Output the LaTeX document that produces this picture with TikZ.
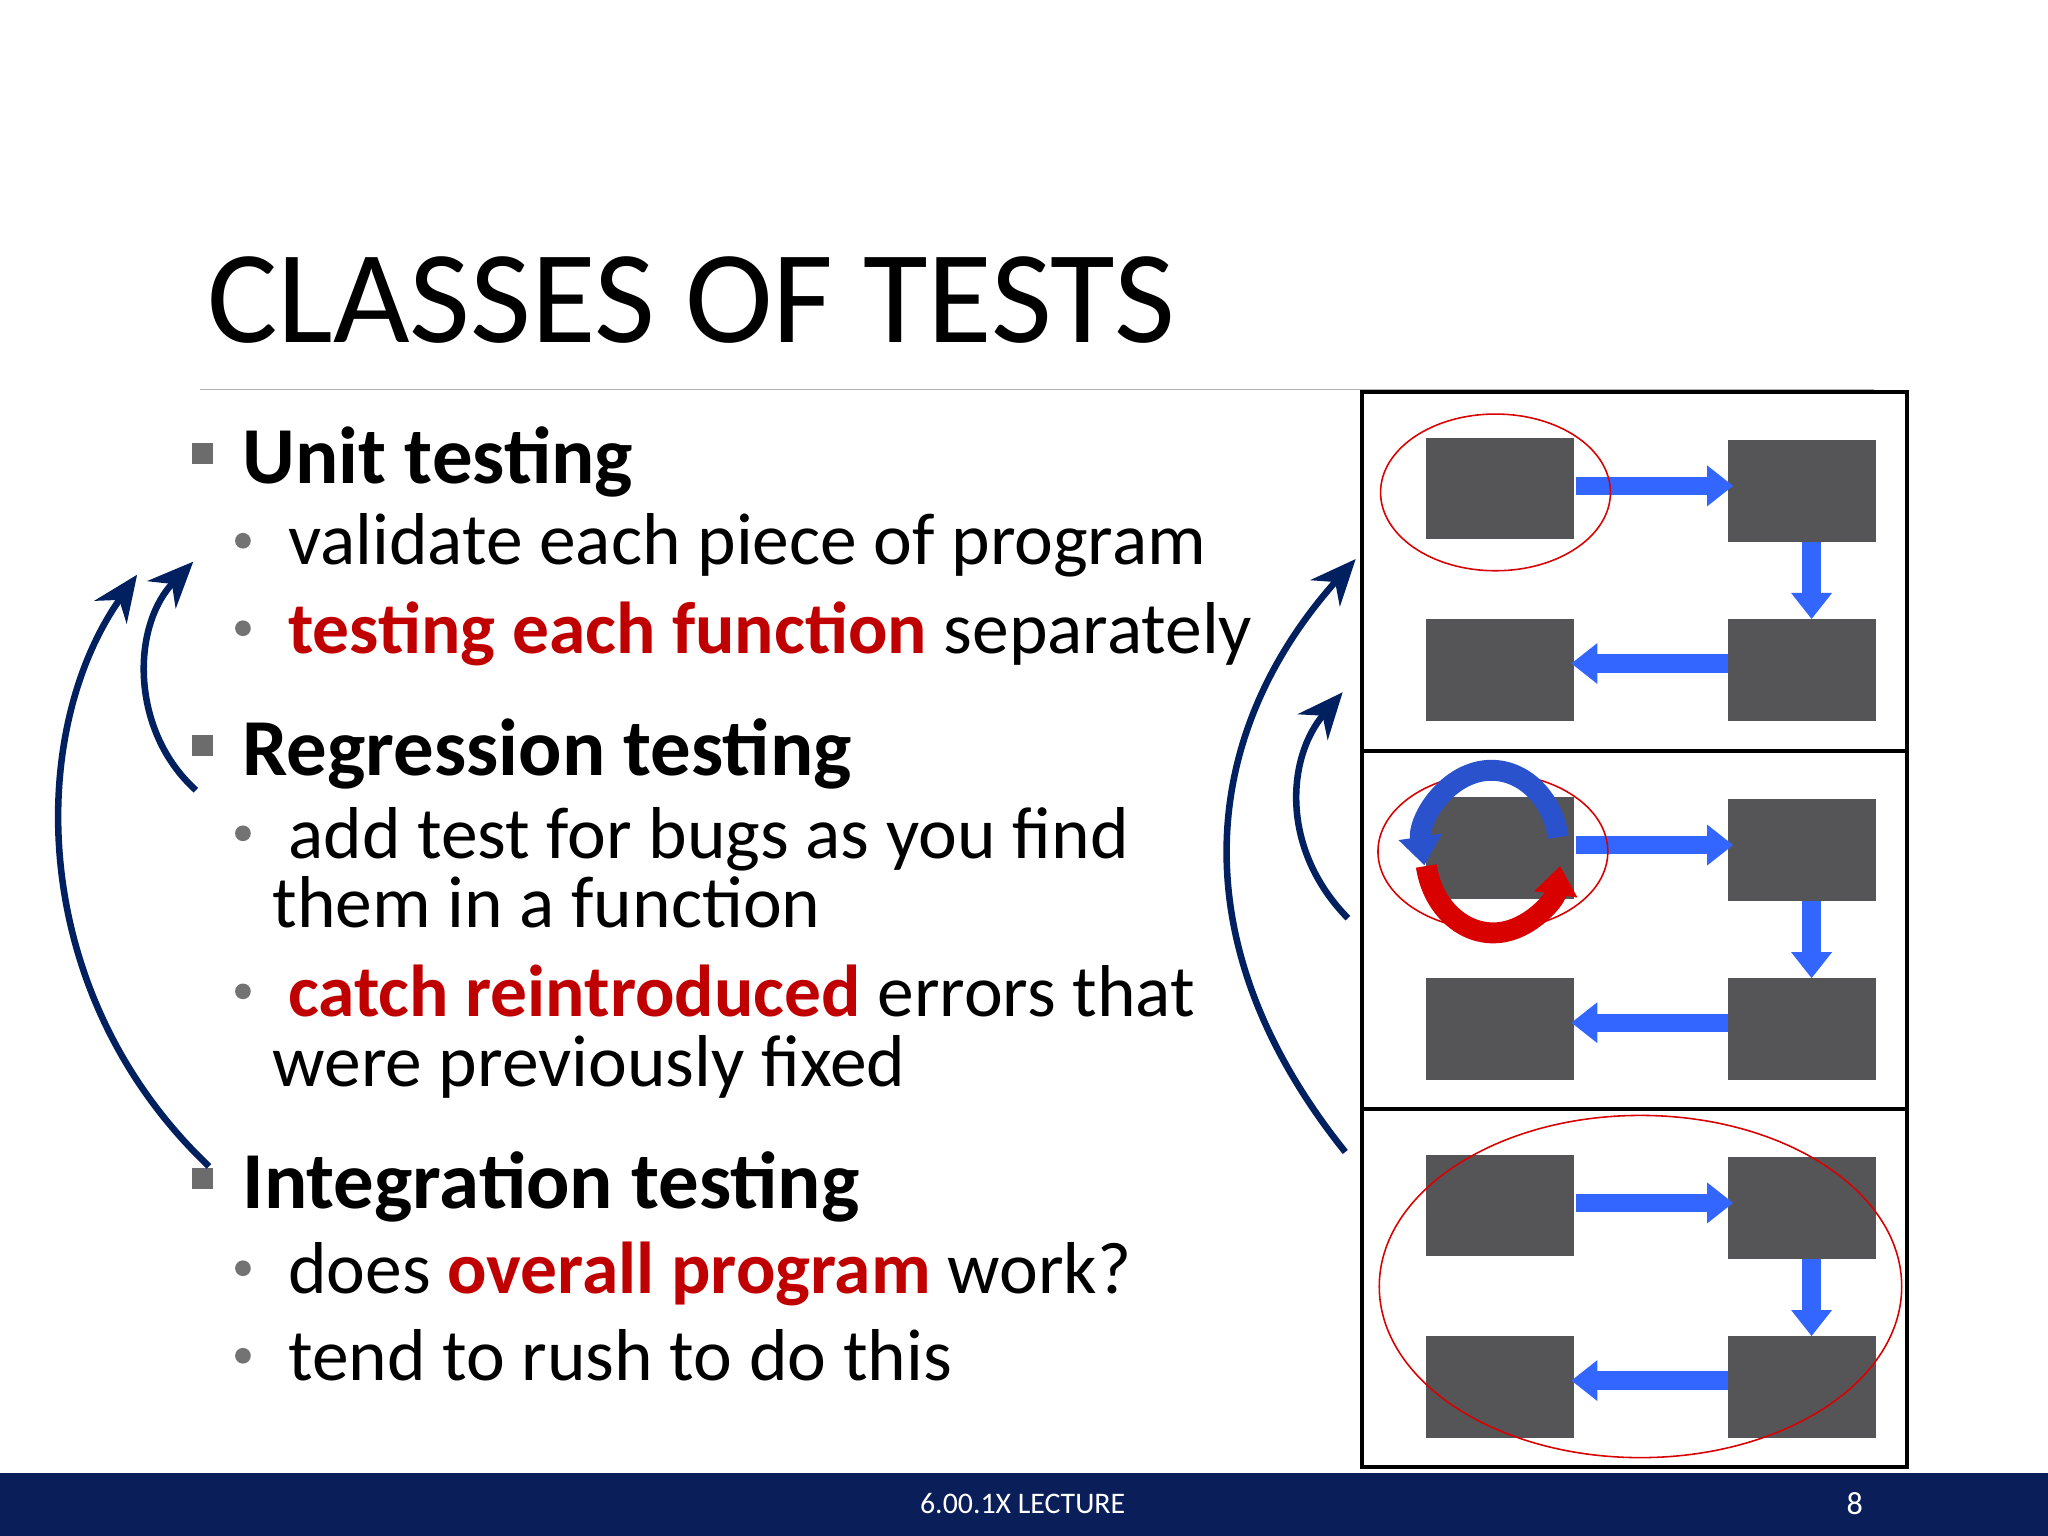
\documentclass[tikz,border=0pt]{standalone}
\usepackage{fontspec}
\setmainfont{Carlito}
\usetikzlibrary{arrows.meta}
\definecolor{navy}{RGB}{0,32,96}
\definecolor{foot}{RGB}{10,30,90}
\definecolor{redt}{RGB}{192,0,0}
\definecolor{boxg}{RGB}{85,85,88}
\definecolor{blu}{RGB}{51,102,255}
\tikzset{
 txt/.style={anchor=base west,inner sep=0,font=\fontsize{16}{19}\selectfont},
 head/.style={anchor=base west,inner sep=0,font=\fontsize{17.6}{21}\selectfont\bfseries},
 sq/.style={fill=gray!85!black,minimum size=0.16cm,inner sep=0},
 dot/.style={circle,fill=gray!90!black,minimum size=0.12cm,inner sep=0},
 gbox/.style={fill=boxg,draw=none},
 barrow/.style={blu,line width=0.14cm,-{Triangle[length=0.2cm,width=0.3cm]}},
 curv/.style={navy,line width=0.05cm,-{Stealth[length=0.35cm,width=0.3cm]}},
 redell/.style={draw=red!85!black,line width=0.012cm},
}
\begin{document}
\begin{tikzpicture}[x=0.01cm,y=-0.01cm]
\useasboundingbox (0,0) rectangle (1568,1176);
\fill[white] (0,0) rectangle (1568,1176);
\fill[foot] (0,1128) rectangle (1568,1176);
\node[white,font=\fontsize{6.5}{8}\selectfont] (ft) at (783,1151) {6.00.1X LECTURE};
\node[white,font=\fontsize{7}{8}\selectfont] (pg) at (1420,1151) {8};
\node[anchor=base west,inner sep=0,font=\fontsize{28.8}{32}\selectfont] (title) at (158,262) {CLASSES OF TESTS};
\draw[gray!60,line width=0.01cm] (153,298) -- (1435,298);
% bullets
\node[sq] (s1) at (155,347) {}; \node[head] (h1) at (185,370) {Unit testing};
\node[dot] (d1) at (186,414) {}; \node[txt] (t1) at (220,432) {validate each piece of program};
\node[dot] (d2) at (186,481) {}; \node[txt] (t2) at (220,500) {\textcolor{redt}{\bfseries testing each function} separately};
\node[sq] (s2) at (155,571) {}; \node[head] (h2) at (185,594) {Regression testing};
\node[dot] (d3) at (186,638) {}; \node[txt] (t3) at (220,657) {add test for bugs as you find};
\node[txt] (t3b) at (208,710) {them in a function};
\node[dot] (d4) at (186,759) {}; \node[txt] (t4) at (220,778) {\textcolor{redt}{\bfseries catch reintroduced} errors that};
\node[txt] (t4b) at (208,832) {were previously fixed};
\node[sq] (s3) at (155,902) {}; \node[head] (h3) at (185,925) {Integration testing};
\node[dot] (d5) at (186,971) {}; \node[txt] (t5) at (220,990) {does \textcolor{redt}{\bfseries overall program} work?};
\node[dot] (d6) at (186,1038) {}; \node[txt] (t6) at (220,1057) {tend to rush to do this};
% panels
\foreach \o/\n in {0/a,275/b,549/c}{
 \fill[gbox] (1092,335+\o) rectangle (1205,413+\o);
 \fill[gbox] (1323,337+\o) rectangle (1436,415+\o);
 \fill[gbox] (1092,474+\o) rectangle (1205,552+\o);
 \fill[gbox] (1323,474+\o) rectangle (1436,552+\o);
 \draw[barrow] (1207,372+\o) -- (1327,372+\o);
 \draw[barrow] (1387,415+\o) -- (1387,474+\o);
 \draw[barrow] (1323,508+\o) -- (1203,508+\o);
}
\draw[line width=0.03cm] (1043,300) rectangle (1460,1123);
\draw[line width=0.03cm] (1043,575) -- (1460,575);
\draw[line width=0.03cm] (1043,849) -- (1460,849);
\draw[redell] (1145,377) ellipse [x radius=88,y radius=60];
\draw[redell] (1143,652) ellipse [x radius=88,y radius=60];
\draw[redell] (1256,985) ellipse [x radius=200,y radius=131];
% circular arrows
\draw[blu!80!black,line width=0.16cm,-{Triangle[length=0.22cm,width=0.32cm]}] (1193,641) arc[start angle=-10,end angle=-190,x radius=52,y radius=62];
\draw[red!85!black,line width=0.16cm,-{Triangle[length=0.22cm,width=0.32cm]}] (1092,663) arc[start angle=170,end angle=10,x radius=52,y radius=62];
% curved arrows
\coordinate (a1s) at (160,893); \coordinate (a1e) at (105,440);
\draw[curv] (a1s) .. controls (20,760) and (20,560) .. (a1e);
\coordinate (a2s) at (150,605); \coordinate (a2e) at (148,430);
\draw[curv] (a2s) .. controls (100,560) and (100,480) .. (a2e);
\coordinate (a3s) at (1030,882); \coordinate (a3e) at (1038,428);
\draw[curv] (a3s) .. controls (900,720) and (920,560) .. (a3e);
\coordinate (a4s) at (1032,703); \coordinate (a4e) at (1028,530);
\draw[curv] (a4s) .. controls (980,650) and (985,580) .. (a4e);
\end{tikzpicture}
\end{document}
